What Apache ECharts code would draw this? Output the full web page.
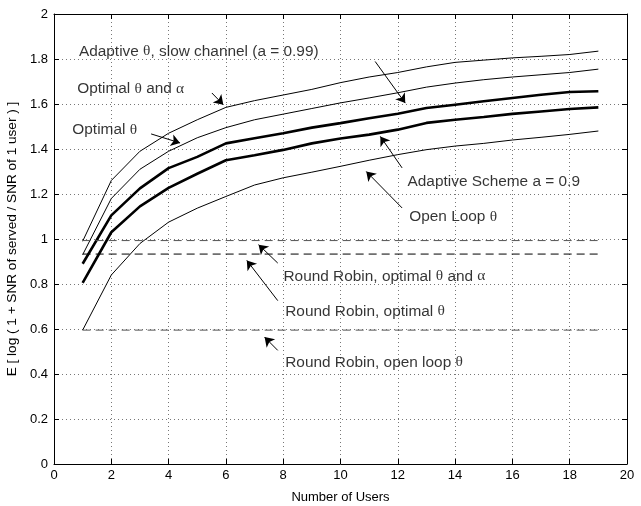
<!DOCTYPE html>
<html>
<head>
<meta charset="utf-8">
<script src="https://cdn.jsdelivr.net/npm/echarts@6/dist/echarts.min.js"></script>
<style>
  html, body { margin: 0; padding: 0; background: #fff; }
  #chart { width: 641px; height: 506px; }
</style>
</head>
<body>
<div id="chart"></div>
<script>
// Number of users on the x axis
const users = [1, 2, 3, 4, 5, 6, 7, 8, 9, 10, 11, 12, 13, 14, 15, 16, 17, 18, 19];

// Expected log-SNR gain per scheme
const adaptiveSlow   = [0.99, 1.26, 1.39, 1.47, 1.53, 1.585, 1.615, 1.64, 1.665, 1.695, 1.72, 1.74, 1.765, 1.785, 1.795, 1.805, 1.812, 1.82, 1.835];
const optThetaAlpha  = [0.93, 1.18, 1.31, 1.39, 1.45, 1.495, 1.53, 1.555, 1.58, 1.605, 1.627, 1.65, 1.675, 1.693, 1.708, 1.72, 1.73, 1.74, 1.755];
const adaptive09     = [0.89, 1.105, 1.225, 1.315, 1.365, 1.425, 1.448, 1.47, 1.495, 1.515, 1.537, 1.557, 1.582, 1.597, 1.612, 1.627, 1.641, 1.653, 1.657];
const optTheta       = [0.805, 1.03, 1.145, 1.227, 1.29, 1.35, 1.372, 1.396, 1.425, 1.447, 1.464, 1.486, 1.516, 1.53, 1.542, 1.556, 1.567, 1.578, 1.585];
const openLoop       = [0.595, 0.84, 0.98, 1.075, 1.137, 1.189, 1.24, 1.272, 1.297, 1.323, 1.35, 1.375, 1.397, 1.413, 1.425, 1.44, 1.452, 1.465, 1.48];

// Round robin baselines (constant in the number of users)
const rrUsers = [1, 19];
const rrOptThetaAlpha = 0.993;
const rrOptTheta = 0.933;
const rrOpenLoop = 0.595;

// Axis ticks
const xTicks = { min: 0, max: 20, step: 2 };
const yTicks = { min: 0, max: 2, step: 0.2 };

// Annotation text anchored at data coordinates (left edge, vertical middle)
const notes = [
  [0.87, 1.834, 'Adaptive θ, slow channel (a = 0.99)'],
  [0.81, 1.667, 'Optimal θ and α'],
  [0.64, 1.486, 'Optimal θ'],
  [12.34, 1.256, 'Adaptive Scheme a = 0.9'],
  [12.40, 1.098, 'Open Loop θ'],
  [8.01, 0.834, 'Round Robin, optimal θ and α'],
  [8.07, 0.678, 'Round Robin, optimal θ'],
  [8.07, 0.452, 'Round Robin, open loop θ']
];

// Arrows: [fromX, fromY, toX, toY] in data coordinates
const arrows = [
  [11.21, 1.789, 12.26, 1.604],
  [5.51, 1.649, 5.91, 1.597],
  [3.39, 1.467, 4.40, 1.427],
  [12.15, 1.316, 11.39, 1.456],
  [12.15, 1.138, 10.90, 1.300],
  [7.81, 0.893, 7.14, 0.975],
  [7.81, 0.726, 6.73, 0.905],
  [7.81, 0.505, 7.35, 0.564]
];

const FONT = 'Liberation Sans';
const zip = (xs, ys) => xs.map((x, i) => [x, ys[i]]);
const flat = (xs, v) => xs.map(x => [x, v]);

function curve(values, width) {
  return {
    type: 'line', data: zip(users, values), symbol: 'none', silent: true,
    lineStyle: { color: '#000', width: width }
  };
}
function baseline(value, color) {
  return {
    type: 'line', data: flat(rrUsers, value), symbol: 'none', silent: true,
    lineStyle: { color: color, width: 1, type: [8, 5] }
  };
}

const frameX = (pos, labels) => ({
  type: 'value', position: pos, min: xTicks.min, max: xTicks.max, interval: xTicks.step,
  axisLine: { show: true, onZero: false, lineStyle: { color: '#000', width: 1 } },
  axisTick: { show: true, inside: true, length: 5, lineStyle: { color: '#000' } },
  axisLabel: { show: labels, color: '#000', fontFamily: FONT, fontSize: 13, margin: 5 },
  splitLine: { show: labels, lineStyle: { color: '#777', width: 1, type: [1, 3] } }
});
const frameY = (pos, labels) => ({
  type: 'value', position: pos, min: yTicks.min, max: yTicks.max, interval: yTicks.step,
  axisLine: { show: true, onZero: false, lineStyle: { color: '#000', width: 1 } },
  axisTick: { show: true, inside: true, length: 5, lineStyle: { color: '#000' } },
  axisLabel: { show: labels, color: '#000', fontFamily: FONT, fontSize: 13, margin: 6 },
  splitLine: { show: labels, lineStyle: { color: '#777', width: 1, type: [1, 3] } }
});

const xMain = Object.assign(frameX('bottom', true), {
  name: 'Number of Users', nameLocation: 'middle', nameGap: 27,
  nameTextStyle: { color: '#000', fontFamily: FONT, fontSize: 13 }
});
const yMain = Object.assign(frameY('left', true), {
  name: 'E [ log ( 1 + SNR of served / SNR of 1 user ) ]', nameLocation: 'middle', nameGap: 29,
  nameTextStyle: { color: '#000', fontFamily: FONT, fontSize: 13.6 }
});

const chart = echarts.init(document.getElementById('chart'), null, { renderer: 'canvas' });
chart.setOption({
  animation: false,
  backgroundColor: '#fff',
  grid: { left: 54, right: 14, top: 14, bottom: 42, containLabel: false, outerBoundsMode: 'none' },
  xAxis: [xMain, frameX('top', false)],
  yAxis: [yMain, frameY('right', false)],
  series: [
    curve(adaptiveSlow, 1),
    curve(optThetaAlpha, 1),
    curve(adaptive09, 2.6),
    curve(optTheta, 2.6),
    curve(openLoop, 1),
    baseline(rrOptThetaAlpha, '#555'),
    baseline(rrOptTheta, '#000'),
    baseline(rrOpenLoop, '#555'),
    {
      type: 'line', data: [], silent: true,
      markLine: {
        silent: true, animation: false,
        symbol: ['none', 'arrow'], symbolSize: 9,
        label: { show: false },
        lineStyle: { color: '#000', width: 1, type: 'solid' },
        itemStyle: { color: '#000' },
        emphasis: { disabled: true },
        data: arrows.map(a => [{ coord: [a[0], a[1]] }, { coord: [a[2], a[3]] }])
      }
    },
    {
      type: 'scatter', silent: true, symbolSize: 0,
      itemStyle: { color: 'transparent' },
      data: notes.map(n => ({ value: [n[0], n[1]], name: n[2] })),
      label: {
        show: true, position: 'right', distance: 0,
        color: '#000', fontFamily: FONT, fontSize: 15.4,
        formatter: p => p.name.replace(/([θα])/g, '{g|$1}'),
        rich: { g: { fontFamily: 'Liberation Serif', fontSize: 15.4, color: '#000' } }
      }
    }
  ]
});
</script>
</body>
</html>
